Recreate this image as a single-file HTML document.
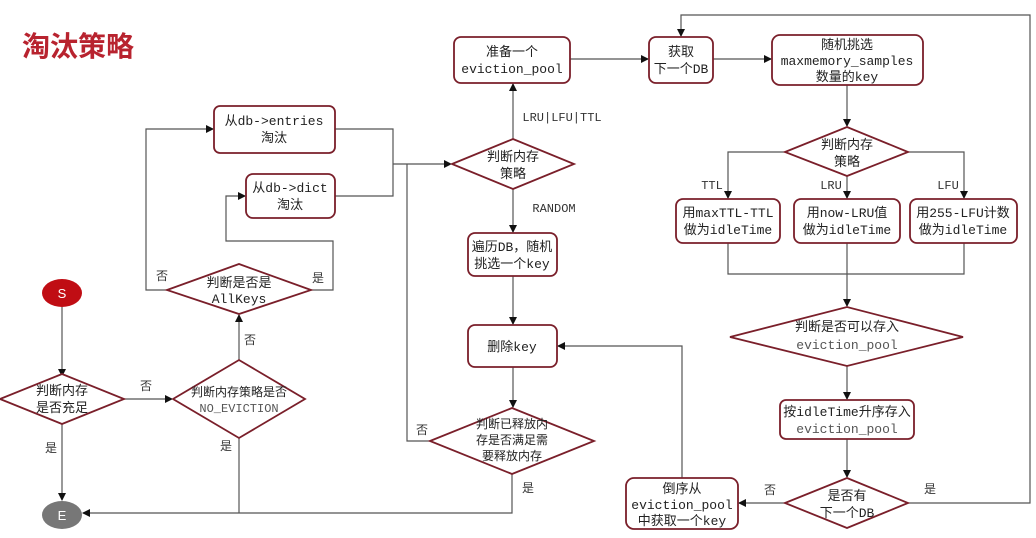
<!DOCTYPE html>
<html><head><meta charset="utf-8">
<style>
html,body{margin:0;padding:0;background:#fff;}
svg{display:block;}
text{font-family:"Liberation Mono","Noto Sans CJK SC",monospace;font-size:13px;fill:#222;text-anchor:middle;}
.lbl{font-size:12px;fill:#333;}
.n{fill:#fff;stroke:#7a1f2a;stroke-width:1.8;}
.l{fill:none;stroke:#555;stroke-width:1.2;}
</style></head><body>
<svg width="1036" height="538" viewBox="0 0 1036 538" xmlns="http://www.w3.org/2000/svg">
<defs><marker id="a" markerWidth="8" markerHeight="8" refX="7" refY="4" orient="auto" markerUnits="userSpaceOnUse"><path d="M0,0 L8,4 L0,8 z" fill="#111"/></marker></defs>
<text x="78" y="56" style="font-family:'Liberation Sans','Noto Sans CJK SC',sans-serif;font-size:28px;font-weight:bold;fill:#b8232f;">淘汰策略</text>

<!-- connectors -->
<g class="l" marker-end="url(#a)">
<path d="M62,307 V376"/>
<path d="M62,424 V500"/>
<path d="M124,399 H172"/>
<path d="M239,360 V315"/>
<path d="M167,290 H146 V129 H213"/>
<path d="M311,290 H333 V241 H226 V196 H245"/>
<path d="M393,164 H451"/>
<path d="M512,474 V513 H83"/>
<path d="M513,139 V84"/>
<path d="M513,189 V232"/>
<path d="M513,276 V324"/>
<path d="M513,367 V407"/>
<path d="M570,59 H648"/>
<path d="M713,59 H771"/>
<path d="M847,85 V126"/>
<path d="M785,152 H728 V198"/>
<path d="M847,176 V198"/>
<path d="M908,152 H964 V198"/>
<path d="M847,274 V306"/>
<path d="M847,366 V399"/>
<path d="M847,439 V477"/>
<path d="M785,503 H739"/>
<path d="M682,478 V346 H558"/>
<path d="M908,503 H1030 V15 H681 V36"/>
</g>
<g class="l">
<path d="M239,438 V513"/>
<path d="M335,129 H393 V196 H335"/>
<path d="M430,441 H407 V164"/>
<path d="M728,243 V274 H964 V243"/>
<path d="M847,243 V274"/>
</g>

<!-- nodes -->
<ellipse cx="62" cy="293" rx="20" ry="14" fill="#c00d14"/>
<text x="62" y="298" style="fill:#fff;font-family:'Liberation Sans',sans-serif;">S</text>
<ellipse cx="62" cy="515" rx="20" ry="14" fill="#777"/>
<text x="62" y="520" style="fill:#fff;font-family:'Liberation Sans',sans-serif;">E</text>

<polygon class="n" points="0,399 62,374 124,399 62,424"/>
<text x="62" y="395">判断内存</text><text x="62" y="412">是否充足</text>
<polygon class="n" points="173,399 239,360 305,399 239,438"/>
<text x="239" y="396" style="font-size:12px">判断内存策略是否</text><text x="239" y="412" style="font-size:12px;fill:#555">NO_EVICTION</text>
<polygon class="n" points="167,290 239,264 311,290 239,314"/>
<text x="239" y="287">判断是否是</text><text x="239" y="303">AllKeys</text>

<rect class="n" x="214" y="106" width="121" height="47" rx="6"/>
<text x="274" y="125">从db-&gt;entries</text><text x="274" y="142">淘汰</text>
<rect class="n" x="246" y="174" width="89" height="44" rx="7"/>
<text x="290" y="192">从db-&gt;dict</text><text x="290" y="209">淘汰</text>

<rect class="n" x="454" y="37" width="116" height="46" rx="7"/>
<text x="512" y="56">准备一个</text><text x="512" y="73">eviction_pool</text>
<polygon class="n" points="452,164 513,139 574,164 513,189"/>
<text x="513" y="161">判断内存</text><text x="513" y="178">策略</text>
<rect class="n" x="468" y="233" width="89" height="43" rx="7"/>
<text x="512" y="251">遍历DB，随机</text><text x="512" y="268">挑选一个key</text>
<rect class="n" x="468" y="325" width="89" height="42" rx="7"/>
<text x="512" y="351">删除key</text>
<polygon class="n" points="430,441 512,408 594,441 512,474"/>
<text x="512" y="428" style="font-size:12px">判断已释放内</text><text x="512" y="444" style="font-size:12px">存是否满足需</text><text x="512" y="460" style="font-size:12px">要释放内存</text>

<rect class="n" x="649" y="37" width="64" height="46" rx="7"/>
<text x="681" y="56">获取</text><text x="681" y="73">下一个DB</text>
<rect class="n" x="772" y="35" width="151" height="50" rx="8"/>
<text x="847" y="49">随机挑选</text><text x="847" y="65">maxmemory_samples</text><text x="847" y="81">数量的key</text>
<polygon class="n" points="785,152 847,127 908,152 847,176"/>
<text x="847" y="149">判断内存</text><text x="847" y="166">策略</text>

<rect class="n" x="676" y="199" width="104" height="44" rx="7"/>
<text x="728" y="217">用maxTTL-TTL</text><text x="728" y="234">做为idleTime</text>
<rect class="n" x="794" y="199" width="106" height="44" rx="7"/>
<text x="847" y="217">用now-LRU值</text><text x="847" y="234">做为idleTime</text>
<rect class="n" x="910" y="199" width="107" height="44" rx="7"/>
<text x="963" y="217">用255-LFU计数</text><text x="963" y="234">做为idleTime</text>

<polygon class="n" points="730,337 847,307 963,337 847,366"/>
<text x="847" y="331">判断是否可以存入</text><text x="847" y="349" style="fill:#555">eviction_pool</text>
<rect class="n" x="780" y="400" width="134" height="39" rx="6"/>
<text x="847" y="416">按idleTime升序存入</text><text x="847" y="433" style="fill:#555">eviction_pool</text>
<polygon class="n" points="785,503 847,478 908,503 847,528"/>
<text x="847" y="500">是否有</text><text x="847" y="517">下一个DB</text>
<rect class="n" x="626" y="478" width="112" height="51" rx="8"/>
<text x="682" y="493">倒序从</text><text x="682" y="509">eviction_pool</text><text x="682" y="525">中获取一个key</text>

<!-- labels -->
<g class="lbl">
<text x="146" y="390" class="lbl">否</text>
<text x="51" y="452" class="lbl">是</text>
<text x="250" y="344" class="lbl">否</text>
<text x="226" y="450" class="lbl">是</text>
<text x="162" y="280" class="lbl">否</text>
<text x="318" y="282" class="lbl">是</text>
<text x="562" y="121" class="lbl">LRU|LFU|TTL</text>
<text x="554" y="212" class="lbl">RANDOM</text>
<text x="422" y="434" class="lbl">否</text>
<text x="528" y="492" class="lbl">是</text>
<text x="712" y="189" class="lbl">TTL</text>
<text x="831" y="189" class="lbl">LRU</text>
<text x="948" y="189" class="lbl">LFU</text>
<text x="770" y="494" class="lbl">否</text>
<text x="930" y="493" class="lbl">是</text>
</g>
</svg>
</body></html>
